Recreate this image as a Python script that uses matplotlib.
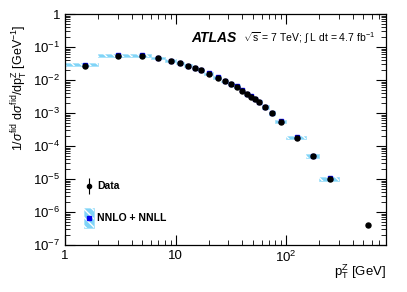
import numpy as np
import matplotlib
matplotlib.use("Agg")
import matplotlib.pyplot as plt
from matplotlib.patches import Rectangle
from matplotlib.ticker import LogLocator, NullFormatter, FixedLocator, FixedFormatter

plt.rcParams['font.family'] = ['Liberation Sans', 'DejaVu Sans']
plt.rcParams['mathtext.fontset'] = 'custom'
plt.rcParams['mathtext.rm'] = 'Liberation Sans'
plt.rcParams['mathtext.it'] = 'Liberation Sans:italic'
plt.rcParams['mathtext.bf'] = 'Liberation Sans:bold'

# bins (GeV)
bin_lo = [0, 2, 4, 6, 8, 10, 12, 14, 16, 18, 22, 26, 30, 34, 38, 42, 46, 50, 54, 60, 70, 80, 100, 150, 200, 300]
bin_hi = [2, 4, 6, 8, 10, 12, 14, 16, 18, 22, 26, 30, 34, 38, 42, 46, 50, 54, 60, 70, 80, 100, 150, 200, 300, 800]
x_pos = [1.5, 3, 5, 7, 9, 11, 13, 15, 17, 20, 24, 28, 32, 36, 40, 44, 48, 52, 57, 65, 75, 90, 125, 175, 250, 550]
data = [0.027, 0.055, 0.055, 0.0464, 0.0385, 0.032, 0.0271, 0.0231, 0.0196, 0.0156,
        0.0118, 0.0093, 0.0074, 0.0063, 0.00474, 0.00377, 0.00312, 0.00265, 0.00216,
        0.00149, 0.00100, 5.45e-4, 1.79e-4, 4.9e-5, 1.02e-5, 4.0e-7]
data_err = [0.0008, 0.0012, 0.0012, 0.0009, 0.0007, 0.0006, 0.0005, 0.0004, 0.0004, 0.0003,
            0.0002, 0.00018, 0.00014, 0.00012, 0.0001, 0.00008, 0.00007, 0.00006, 0.00005,
            0.00003, 0.00002, 1.2e-5, 4e-6, 1.2e-6, 4e-7, 4e-8]
theory = [0.0295, 0.056, 0.056, 0.0475, 0.039, 0.0325, 0.0275, 0.0235, 0.0199, 0.0159,
          0.0121, 0.0095, 0.0076, 0.0064, 0.00485, 0.00385, 0.0032, 0.0027, 0.0022,
          0.00152, 0.00103, 5.6e-4, 1.82e-4, 5.0e-5, 1.04e-5]
theory_rel_unc = [0.12, 0.10, 0.08, 0.08, 0.08, 0.08, 0.08, 0.08, 0.08, 0.09,
                  0.09, 0.09, 0.10, 0.10, 0.10, 0.11, 0.11, 0.12, 0.12,
                  0.13, 0.13, 0.13, 0.13, 0.13, 0.14]

fig = plt.figure(figsize=(4.07, 2.92), dpi=100)
ax = fig.add_axes([0.160, 0.161, 0.788, 0.791])
ax.set_xscale('log')
ax.set_yscale('log')
ax.set_xlim(1, 800)
ax.set_ylim(1e-7, 1)

fill_c = '#80d4f7'
for lo, hi, t, r in zip(bin_lo, bin_hi, theory, theory_rel_unc):
    lo = max(lo, 1)
    y0, y1 = t * (1 - r), t * (1 + r)
    ax.add_patch(Rectangle((lo, y0), hi - lo, y1 - y0, facecolor=fill_c,
                           edgecolor='#a8e2fa', linewidth=0.6, zorder=2))
    ax.add_patch(Rectangle((lo, y0), hi - lo, y1 - y0, facecolor='none',
                           edgecolor='white', linewidth=0, hatch='\\\\\\\\', zorder=2.1))
ax.plot(x_pos[:len(theory)], theory, 's', color='#0000ee', ms=3.2, zorder=3, lw=0)
ax.errorbar(x_pos, data, yerr=data_err, fmt='o', color='black', ms=3.6,
            elinewidth=0.8, capsize=0, zorder=4)

# ticks ROOT-like
ax.tick_params(which='both', direction='in', top=True, right=True, labelsize=9.5)
ax.tick_params(which='major', length=7, width=0.8)
ax.tick_params(which='minor', length=3.5, width=0.6)
ax.xaxis.set_major_locator(FixedLocator([1, 10, 100]))
ax.xaxis.set_major_formatter(FixedFormatter(['1', '10', r'$10^{2}$']))
ax.xaxis.set_minor_locator(LogLocator(base=10, subs=np.arange(2, 10), numticks=20))
ax.xaxis.set_minor_formatter(NullFormatter())
yt = [1e-7, 1e-6, 1e-5, 1e-4, 1e-3, 1e-2, 1e-1, 1]
ax.yaxis.set_major_locator(FixedLocator(yt))
ax.yaxis.set_major_formatter(FixedFormatter([r'$10^{-7}$', r'$10^{-6}$', r'$10^{-5}$', r'$10^{-4}$',
                                             r'$10^{-3}$', r'$10^{-2}$', r'$10^{-1}$', '1']))
ax.yaxis.set_minor_locator(LogLocator(base=10, subs=np.arange(2, 10), numticks=20))
ax.yaxis.set_minor_formatter(NullFormatter())
for s in ax.spines.values():
    s.set_linewidth(0.9)

ax.set_ylabel(r'$1/\sigma^{\mathrm{fid}}\ \mathrm{d}\sigma^{\mathrm{fid}}/\mathrm{dp}_{\mathrm{T}}^{\mathrm{Z}}$ [GeV$^{-1}$]',
              fontsize=9, va='center')
ax.yaxis.set_label_coords(-0.14, 0.68)
ax.set_xlabel(r'$\mathrm{p}_{\mathrm{T}}^{\mathrm{Z}}$ [GeV]', fontsize=9.5, va='center', ha='right')
ax.xaxis.set_label_coords(1.0, -0.115)

ax.text(0.392, 0.895, 'ATLAS', transform=ax.transAxes, fontsize=10, fontweight='bold',
        style='italic', va='center', ha='left')
ax.text(0.555, 0.895, r'$\sqrt{\mathrm{s}}$ = 7 TeV; $\int$ L dt = 4.7 fb$^{-1}$',
        transform=ax.transAxes, fontsize=7.5, va='center', ha='left')

# legend
ax.errorbar([0.075], [0.255], yerr=[0.035], fmt='o', color='black', ms=3,
            elinewidth=0.8, transform=ax.transAxes, clip_on=False)
ax.text(0.100, 0.255, 'Data', transform=ax.transAxes, fontsize=7.5, fontweight='bold', va='center')
ax.add_patch(Rectangle((0.060, 0.075), 0.030, 0.085, transform=ax.transAxes,
                       facecolor=fill_c, edgecolor='#a8e2fa', lw=0.6, zorder=2))
ax.add_patch(Rectangle((0.060, 0.075), 0.030, 0.085, transform=ax.transAxes,
                       facecolor='none', edgecolor='white', lw=0, hatch='\\\\\\\\', zorder=2.1))
ax.plot([0.075], [0.117], 's', color='#0000ee', ms=3.5, transform=ax.transAxes, zorder=3)
ax.text(0.100, 0.117, 'NNLO + NNLL', transform=ax.transAxes, fontsize=7.5, fontweight='bold', va='center')

fig.savefig('out.png', dpi=100)
